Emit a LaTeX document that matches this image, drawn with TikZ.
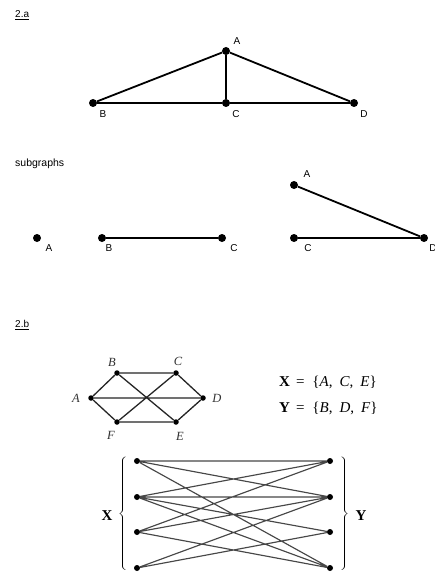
\documentclass[tikz,border=0pt]{standalone}
\usepackage{fontspec}
\setsansfont{Liberation Sans}
\setmainfont{Liberation Serif}
\usepackage{unicode-math}
\setmathfont{Latin Modern Math}
\begin{document}
\begin{tikzpicture}[x=1pt,y=-1pt,
  bigdot/.style={circle,fill=black,inner sep=0pt,minimum size=8pt},
  hexdot/.style={circle,fill=black,inner sep=0pt,minimum size=5.5pt},
  bipdot/.style={circle,fill=black,inner sep=0pt,minimum size=6pt},
  sflab/.style={font=\sffamily\fontsize{10}{11}\selectfont,inner sep=0pt},
  hexlab/.style={font=\fontsize{12.5}{13}\selectfont,inner sep=0pt,text=black!80},
  thick2/.style={line width=1.8pt},
  hexedge/.style={line width=1.3pt,draw=black!85},
  bipedge/.style={line width=1.15pt,draw=black!72},
  setlab/.style={anchor=west,inner sep=0pt,font=\fontsize{15}{16}\selectfont}]
\useasboundingbox (0,0) rectangle (435,575);
\fill[white] (0,0) rectangle (435,575);

% 2.a
\node[sflab,anchor=west] (ta) at (15,15) {\underline{2.a}};
\node[bigdot] (A) at (226,51) {};
\node[bigdot] (B) at (93,103) {};
\node[bigdot] (C) at (226,103) {};
\node[bigdot] (D) at (354,103) {};
\draw[thick2] (A) -- (B) (A) -- (C) (A) -- (D) (B) -- (C) (C) -- (D);
\node[sflab] (lA) at (237,41) {A};
\node[sflab] (lB) at (103,114) {B};
\node[sflab] (lC) at (236,114) {C};
\node[sflab] (lD) at (364,114) {D};

% subgraphs
\node[sflab,anchor=west,font=\sffamily\fontsize{10.5}{11}\selectfont] (sg) at (15,164) {subgraphs};
\node[bigdot] (sA) at (37,238) {};
\node[sflab] (lsA) at (49,248) {A};
\node[bigdot] (sB) at (102,238) {};
\node[bigdot] (sC) at (222,238) {};
\draw[thick2] (sB) -- (sC);
\node[sflab] (lsB) at (109,248) {B};
\node[sflab] (lsC) at (234,248) {C};
\node[bigdot] (tA) at (294,185) {};
\node[bigdot] (tC) at (294,238) {};
\node[bigdot] (tD) at (424,238) {};
\draw[thick2] (tA) -- (tD) (tC) -- (tD);
\node[sflab] (ltA) at (307,174) {A};
\node[sflab] (ltC) at (308,248) {C};
\node[sflab] (ltD) at (433,248) {D};

% 2.b
\node[sflab,anchor=west] (tb) at (15,325) {\underline{2.b}};
\node[hexdot] (hB) at (117,373) {};
\node[hexdot] (hC) at (176,373) {};
\node[hexdot] (hA) at (91,398) {};
\node[hexdot] (hD) at (203,398) {};
\node[hexdot] (hF) at (117,422) {};
\node[hexdot] (hE) at (176,422) {};
\draw[hexedge] (hA) -- (hB) (hB) -- (hC) (hC) -- (hD) (hD) -- (hE) (hE) -- (hF) (hF) -- (hA)
  (hA) -- (hD) (hB) -- (hE) (hC) -- (hF);
\node[hexlab] (lhB) at (112,362) {\textit{B}};
\node[hexlab] (lhC) at (178,361) {\textit{C}};
\node[hexlab] (lhA) at (76,398) {\textit{A}};
\node[hexlab] (lhD) at (217,398) {\textit{D}};
\node[hexlab] (lhF) at (111,435) {\textit{F}};
\node[hexlab] (lhE) at (180,436) {\textit{E}};

\node[setlab] (setX) at (279,382) {\textbf{X}\hspace{6pt}=\hspace{8pt}\{\textit{A},\hspace{7pt}\textit{C},\hspace{7pt}\textit{E}\}};
\node[setlab] (setY) at (279,408) {\textbf{Y}\hspace{6pt}=\hspace{8pt}\{\textit{B},\hspace{7pt}\textit{D},\hspace{7pt}\textit{F}\}};

% bipartite
\foreach \i/\y in {1/461,2/497,3/532,4/568}{
  \node[bipdot] (L\i) at (137,\y) {};
  \node[bipdot] (R\i) at (330,\y) {};
}
\draw[bipedge] (L1) -- (R1) (L1) -- (R2) (L1) -- (R4)
  (L2) -- (R1) (L2) -- (R2) (L2) -- (R3) (L2) -- (R4)
  (L3) -- (R1) (L3) -- (R2) (L3) -- (R4)
  (L4) -- (R2) (L4) -- (R3);
\node[inner sep=0pt] (brL) at (124,515) {$\left\{\vrule height 57pt depth 57pt width 0pt\right.$};
\node[inner sep=0pt] (brR) at (344,515) {$\left.\vrule height 57pt depth 57pt width 0pt\right\}$};
\node[inner sep=0pt,font=\fontsize{15}{16}\selectfont] (bX) at (107,516) {\textbf{X}};
\node[inner sep=0pt,font=\fontsize{15}{16}\selectfont] (bY) at (361,516) {\textbf{Y}};
\end{tikzpicture}
\end{document}
